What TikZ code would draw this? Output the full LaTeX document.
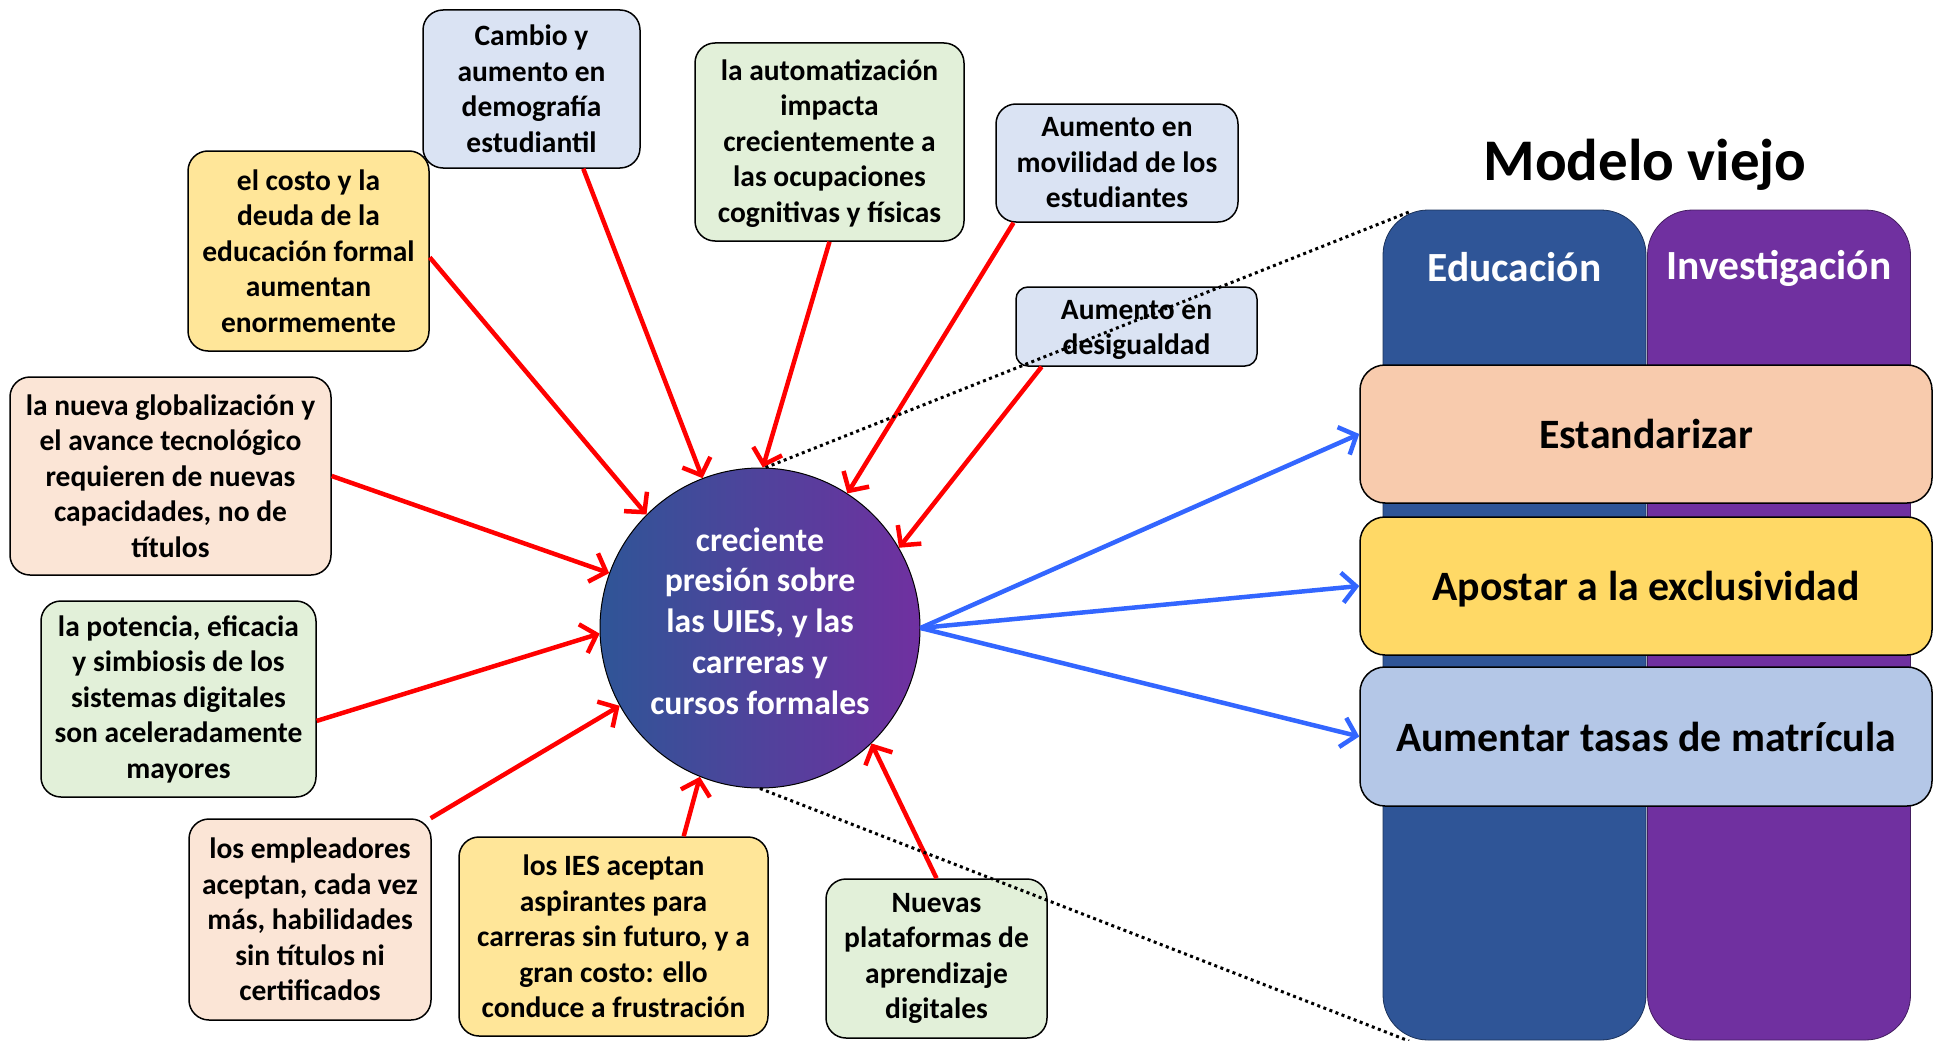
\documentclass[tikz,border=0pt]{standalone}
\usepackage{fontspec}
\setmainfont{Carlito}
\usetikzlibrary{arrows.meta}
\definecolor{bxblue}{HTML}{DAE3F3}
\definecolor{bxyellow}{HTML}{FFE699}
\definecolor{bxgreen}{HTML}{E2F0D9}
\definecolor{bxpeach}{HTML}{FBE5D6}
\definecolor{rpeach}{HTML}{F8CBAD}
\definecolor{ryellow}{HTML}{FFD966}
\definecolor{rblue}{HTML}{B4C7E7}
\definecolor{edublue}{HTML}{2F5597}
\definecolor{invpurple}{HTML}{7030A0}
\definecolor{arrred}{HTML}{FF0000}
\definecolor{arrblue}{HTML}{3366FF}
\begin{document}
\begin{tikzpicture}[x=1pt,y=-1pt,
  box/.style={draw=black, line width=1.5pt, rounded corners=20pt, align=center, inner sep=0pt,
    font=\bfseries\fontsize{29.5}{35.5}\selectfont, text=black},
  rbox/.style={draw=black, line width=1.5pt, rounded corners=25pt, align=center, inner sep=0pt,
    minimum width=572pt, font=\bfseries\fontsize{41.8}{50}\selectfont, text=black},
  colbox/.style={draw=black!40!#1, line width=0.8pt, fill=#1, rounded corners=45pt, inner sep=0pt,
    minimum width=263pt, minimum height=830pt},
  collabel/.style={text=white, font=\bfseries\fontsize{41.5}{50}\selectfont},
  redarr/.style={draw=arrred, line width=4.5pt, -{Straight Barb[length=14pt,width=30pt]}},
  bluearr/.style={draw=arrblue, line width=4.5pt, -{Straight Barb[length=14pt,width=30pt]}},
  dots/.style={draw=black, line width=3pt, dash pattern=on 3pt off 3.5pt}
]
\useasboundingbox (0,0) rectangle (1938,1041);

% right side columns
\node[colbox=edublue] (edu) at (1514.5,625) {};
\node[colbox=invpurple] (inv) at (1779,625) {};
\node[collabel] (edul) at (1514.5,267) {Educación};
\node[collabel] (invl) at (1779,268) {Investigación};
\node[font=\bfseries\fontsize{59}{70}\selectfont] (title) at (1645,165) {Modelo viejo};

\node[rbox, fill=rpeach, minimum height=138pt] (estand) at (1646,434) {Estandarizar};
\node[rbox, fill=ryellow, minimum height=138pt] (apostar) at (1646,586) {\raisebox{-3.5pt}[\height][\depth]{Apostar a la exclusividad}};
\node[rbox, fill=rblue, minimum height=139pt] (aument) at (1646,736.5) {Aumentar tasas de matrícula};

% central circle
\node[circle, minimum size=320pt, inner sep=0pt, draw=black, line width=1pt,
  left color=edublue, right color=invpurple] (core) at (760,628) {};
\node[text=white, align=center, inner sep=0pt,
  font=\bfseries\fontsize{33.7}{40.8}\selectfont] (corelabel) at (760,621)
  {creciente\\presión sobre\\las UIES, y las\\carreras y\\cursos formales};

% surrounding boxes
\node[box, fill=bxblue, minimum width=217pt, minimum height=158pt] (cambio) at (531.5,89)
  {Cambio y\\aumento en\\demografía\\estudiantil};
\node[box, fill=bxyellow, minimum width=241pt, minimum height=200pt] (costo) at (308.5,251)
  {el costo y la\\deuda de la\\educación formal\\aumentan\\enormemente};
\node[box, fill=bxgreen, minimum width=269pt, minimum height=198pt] (autom) at (829.5,142)
  {\raisebox{-2pt}[\height][\depth]{\begin{tabular}{@{}c@{}}la automatización\\impacta\\crecientemente a\\las ocupaciones\\cognitivas y físicas\end{tabular}}};
\node[box, fill=bxblue, minimum width=242pt, minimum height=118pt] (movil) at (1117,163)
  {Aumento en\\movilidad de los\\estudiantes};
\node[box, fill=bxblue, minimum width=241pt, minimum height=79pt, rounded corners=12pt] (desig) at (1136.5,326.5)
  {\raisebox{-3.5pt}[\height][\depth]{\begin{tabular}{@{}c@{}}Aumento en\\desigualdad\end{tabular}}};
\node[box, fill=bxpeach, minimum width=321pt, minimum height=198pt] (glob) at (170.5,476)
  {la nueva globalización y\\el avance tecnológico\\requieren de nuevas\\capacidades, no de\\títulos};
\node[box, fill=bxgreen, minimum width=275pt, minimum height=196pt] (poten) at (178.5,699)
  {la potencia, eficacia\\y simbiosis de los\\sistemas digitales\\son aceleradamente\\mayores};
\node[box, fill=bxpeach, minimum width=242pt, minimum height=201pt] (emple) at (310,919.5)
  {los empleadores\\aceptan, cada vez\\más, habilidades\\sin títulos ni\\certificados};
\node[box, fill=bxyellow, minimum width=309pt, minimum height=199pt] (ies) at (613.5,936.5)
  {los IES aceptan\\aspirantes para\\carreras sin futuro, y a\\gran costo: ello\\conduce a frustración};
\node[box, fill=bxgreen, minimum width=221pt, minimum height=159pt] (nuevas) at (936.5,958.5)
  {Nuevas\\plataformas de\\aprendizaje\\digitales};

% red arrows
\draw[redarr] (cambio.-57.4) -- (core.111.5);
\draw[redarr] (costo.-3) -- (core.135);
\draw[redarr] (autom.south) -- (core.89);
\draw[redarr] (movil.-150.9) -- (core.57.5);
\draw[redarr] (desig.-157.3) -- (core.30.5);
\draw[redarr] (glob.east) -- (core.160.8);
\draw[redarr] (poten.-9.9) -- (core.182);
\draw[redarr] (emple.40) -- (core.209);
\draw[redarr] (ies.55.8) -- (core.248);
\draw[redarr] (nuevas.north) -- (core.314);

% blue arrows
\draw[bluearr] (core.east) -- (estand.west);
\draw[bluearr] (core.east) -- (apostar.west);
\draw[bluearr] (core.east) -- (aument.west);

% dotted lines
\coordinate (dtop) at (1409,212);
\coordinate (dbot) at (1409,1041);
\draw[dots] (core.88.5) -- (dtop);
\draw[dots] (core.south) -- (dbot);
\end{tikzpicture}
\end{document}
